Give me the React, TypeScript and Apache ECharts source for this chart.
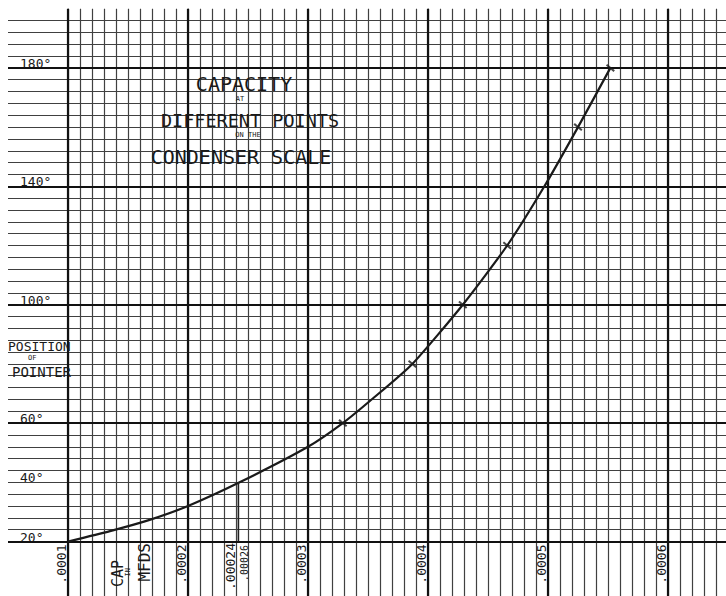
import React, { useEffect, useRef } from "react";
import * as echarts from "echarts";

// ---- data ----
const capacityMfd = [0.0001, 0.000135, 0.000168, 0.0002, 0.000243, 0.0003, 0.000329, 0.000354, 0.000387, 0.000429, 0.000466, 0.000497, 0.000525, 0.000552];
const positionDeg = [20, 23.5, 27.3, 32, 40, 52, 60, 68.3, 80, 100, 120, 140, 160, 180];
const markerCap = [0.000329, 0.000387, 0.000429, 0.000466, 0.000525, 0.000552];
const markerDeg = [60, 80, 100, 120, 160, 180];
const dropCap = [0.000242, 0.000242];
const dropDeg = [20, 40];
const xTickLabels = [".0001", ".0002", ".0003", ".0004", ".0005", ".0006"];
const yTickValues = [20, 40, 60, 100, 140, 180];
const extraCapLabels = [".00024", ".00026"];
const titleLines = ["CAPACITY", "AT", "DIFFERENT POINTS", "ON THE", "CONDENSER SCALE"];
const yTitle = ["POSITION", "OF", "POINTER"];
const xTitle = ["CAP", "IN", "MFDS"];

// ---- layout ----
const LEFT = 68;
const BASE = 541.5;
const PX_DEG = 2.96;
const MONO = '"DejaVu Sans Mono", monospace';
const THIN = { color: "#404040", width: 1.2 };
const THICK = { color: "#111", width: 2.2 };
const INK = "#1a1a1a";

const topOf = (deg: number) => BASE - (deg - 20) * PX_DEG;

export default function App() {
  const ref = useRef<HTMLDivElement>(null);
  useEffect(() => {
    if (!ref.current) return;
    const chart = echarts.init(ref.current, null, { renderer: "svg" });
    const hiddenX = (gridIndex: number) => ({ type: "value", gridIndex, min: 0, max: 1, show: false });
    const hiddenY = (gridIndex: number) => ({ type: "value", gridIndex, min: 0, max: 1, show: false });
    const text = (t: string, x: number, y: number, size: number, align = "center", rot = 0, vAlign = "middle") => ({
      type: "text",
      x,
      y,
      rotation: rot,
      z: 10,
      style: { text: t, fontFamily: MONO, fontSize: size, fill: INK, align, verticalAlign: vAlign },
    });
    const option: any = {
      animation: false,
      backgroundColor: "#fff",
      grid: [
        { left: LEFT, top: topOf(200), width: 660, height: 180 * PX_DEG, outerBoundsMode: "none" },
        { left: LEFT, top: topOf(196), width: 660, height: 176 * PX_DEG, outerBoundsMode: "none" },
        { left: LEFT, top: topOf(180), width: 660, height: 160 * PX_DEG, outerBoundsMode: "none" },
        { left: LEFT, top: topOf(200), width: 600, height: 180 * PX_DEG, outerBoundsMode: "none" },
      ],
      xAxis: [
        {
          type: "value", gridIndex: 0, min: 0.0001, max: 0.00065, interval: 0.00001, z: 1,
          axisLine: { show: false },
          axisTick: { show: true, length: 55, lineStyle: THIN },
          axisLabel: { show: false },
          splitLine: { show: true, lineStyle: THIN },
        },
        hiddenX(1),
        hiddenX(2),
        {
          type: "value", gridIndex: 3, min: 0.0001, max: 0.0006, interval: 0.0001, z: 2,
          axisLine: { show: false },
          axisTick: { show: true, length: 55, lineStyle: THICK },
          splitLine: { show: true, lineStyle: THICK },
          axisLabel: {
            show: true, rotate: 90, margin: 3, verticalAlign: "bottom",
            fontFamily: MONO, fontSize: 13, color: INK,
            formatter: (v: number) => xTickLabels[Math.round(v / 0.0001) - 1] ?? "",
          },
        },
      ],
      yAxis: [
        { type: "value", gridIndex: 0, min: 20, max: 200, show: false },
        {
          type: "value", gridIndex: 1, min: 20, max: 196, interval: 4, z: 1,
          axisLine: { show: false },
          axisTick: { show: true, length: 60, lineStyle: THIN },
          splitLine: { show: true, lineStyle: THIN },
          axisLabel: {
            show: true, margin: 48, align: "left", verticalAlign: "bottom", padding: [0, 0, -2, 0],
            fontFamily: MONO, fontSize: 13, color: INK,
            formatter: (v: number) => (yTickValues.includes(Math.round(v)) ? `${Math.round(v)}°` : ""),
          },
        },
        {
          type: "value", gridIndex: 2, min: 20, max: 180, interval: 40, z: 2,
          axisLine: { show: false },
          axisTick: { show: true, length: 60, lineStyle: THICK },
          splitLine: { show: true, lineStyle: THICK },
          axisLabel: { show: false },
        },
        hiddenY(3),
      ],
      series: [
        {
          type: "line", xAxisIndex: 0, yAxisIndex: 0, z: 5,
          data: capacityMfd.map((c, i) => [c, positionDeg[i]]),
          smooth: 0.2, showSymbol: false,
          lineStyle: { color: INK, width: 2.2 },
        },
        {
          type: "line", xAxisIndex: 0, yAxisIndex: 0, z: 5,
          data: dropCap.map((c, i) => [c, dropDeg[i]]),
          showSymbol: false,
          lineStyle: { color: "#222", width: 1.6 },
        },
        {
          type: "scatter", xAxisIndex: 0, yAxisIndex: 0, z: 6,
          data: markerCap.map((c, i) => [c, markerDeg[i]]),
          symbol: "rect", symbolSize: [10, 2], symbolRotate: -40,
          itemStyle: { color: INK },
        },
      ],
      graphic: [
        text(titleLines[0], 244, 84, 20),
        text(titleLines[1], 240, 99, 7),
        text(titleLines[2], 250, 120, 18.5),
        text(titleLines[3], 248, 135, 7),
        text(titleLines[4], 241, 157, 20),
        text(yTitle[0], 8, 346, 13, "left"),
        text(yTitle[1], 28, 358, 7, "left"),
        text(yTitle[2], 12, 372, 14, "left"),
        text(xTitle[0], 118, 560, 15, "right", Math.PI / 2),
        text(xTitle[1], 128, 568, 7, "right", Math.PI / 2),
        text(xTitle[2], 144, 543, 16, "right", Math.PI / 2),
        text(extraCapLabels[0], 230, 543, 13, "right", Math.PI / 2),
        text(extraCapLabels[1], 244, 545, 10, "right", Math.PI / 2),
      ],
    };
    chart.setOption(option);
    return () => chart.dispose();
  }, []);
  return <div ref={ref} style={{ position: "absolute", left: 0, top: 0, width: 726, height: 596 }} />;
}
